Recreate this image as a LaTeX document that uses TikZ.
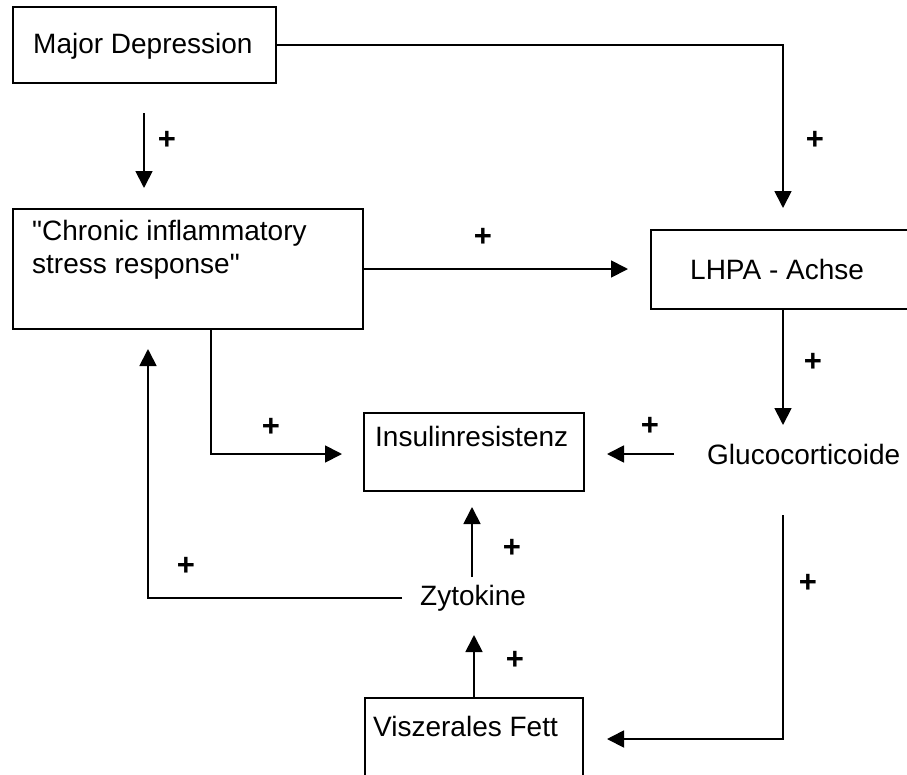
\documentclass[tikz,border=0pt]{standalone}
\usepackage{fontspec}
\setmainfont{Liberation Sans}
\usetikzlibrary{arrows.meta,calc}
\begin{document}
\begin{tikzpicture}[x=1pt,y=-1pt,
  box/.style={draw, line width=1.6, anchor=north west, inner sep=0, outer sep=0},
  lbl/.style={anchor=base west, inner sep=0, font=\fontsize{28}{33}\selectfont},
  plus/.style={inner sep=0, font=\fontsize{31}{31}\selectfont\bfseries},
  arr/.style={line width=1.8, -{Triangle[length=17,width=17]}},
  ln/.style={line width=1.8}]
\useasboundingbox (0,0) rectangle (907,774);
\clip (0,0) rectangle (907,774);
\fill[white] (0,0) rectangle (907,774);
% boxes
\node[box, minimum width=263, minimum height=76] (md) at (13,7) {};
\node[box, minimum width=350, minimum height=120] (chr) at (13,209) {};
\node[box, minimum width=264, minimum height=79] (lhpa) at (651,230) {};
\node[box, minimum width=220, minimum height=78] (ins) at (364,413) {};
\node[box, minimum width=218, minimum height=102] (visz) at (365,698) {};
% texts
\node[lbl] (tmd) at (33,53) {Major Depression};
\node[lbl] (tc1) at (32,240) {\textquotedbl Chronic inflammatory};
\node[lbl] (tc2) at (32,273) {stress response\textquotedbl};
\node[lbl] (tlh) at (690,279) {LHPA - Achse};
\node[lbl] (tins) at (375,446) {Insulinresistenz};
\node[lbl] (gluco) at (707,464) {Glucocorticoide};
\node[lbl] (zyto) at (420,605) {Zytokine};
\node[lbl] (tvisz) at (373,736) {Viszerales Fett};
% coordinates
\coordinate (lhpaIn) at (783,208);
\coordinate (a1s) at (144,113);
\coordinate (a1e) at (144,188);
\coordinate (a2e) at (628,269);
\coordinate (a3e) at (783,425);
\coordinate (a4s) at (674,454);
\coordinate (a4e) at (607,454);
\coordinate (a5s) at (211,329);
\coordinate (a5e) at (342,454);
\coordinate (a6s) at (402,598);
\coordinate (a6e) at (148,349);
\coordinate (a7s) at (472,577);
\coordinate (a7e) at (472,507);
\coordinate (a8e) at (474,635);
\coordinate (a9s) at (783,515);
\coordinate (a9e) at (607,739);
% connectors
\draw[arr] (md.east) -| (lhpaIn);
\draw[arr] (a1s) -- (a1e);
\draw[arr] (chr.east) -- (a2e);
\draw[arr] (lhpa.south) -- (a3e);
\draw[arr] (a4s) -- (a4e);
\draw[arr] (a5s) |- (a5e);
\draw[arr] (a6s) -| (a6e);
\draw[arr] (a7s) -- (a7e);
\draw[arr] (visz.north) -- (a8e);
\draw[arr] (a9s) |- (a9e);
% plus signs
\node[plus] (p1) at (167,140) {+};
\node[plus] (p2) at (815,140) {+};
\node[plus] (p3) at (483,237) {+};
\node[plus] (p4) at (813,362) {+};
\node[plus] (p5) at (650,426) {+};
\node[plus] (p6) at (271,427) {+};
\node[plus] (p7) at (186,566) {+};
\node[plus] (p8) at (512,548) {+};
\node[plus] (p9) at (515,660) {+};
\node[plus] (p10) at (808,583) {+};
\end{tikzpicture}
\end{document}
